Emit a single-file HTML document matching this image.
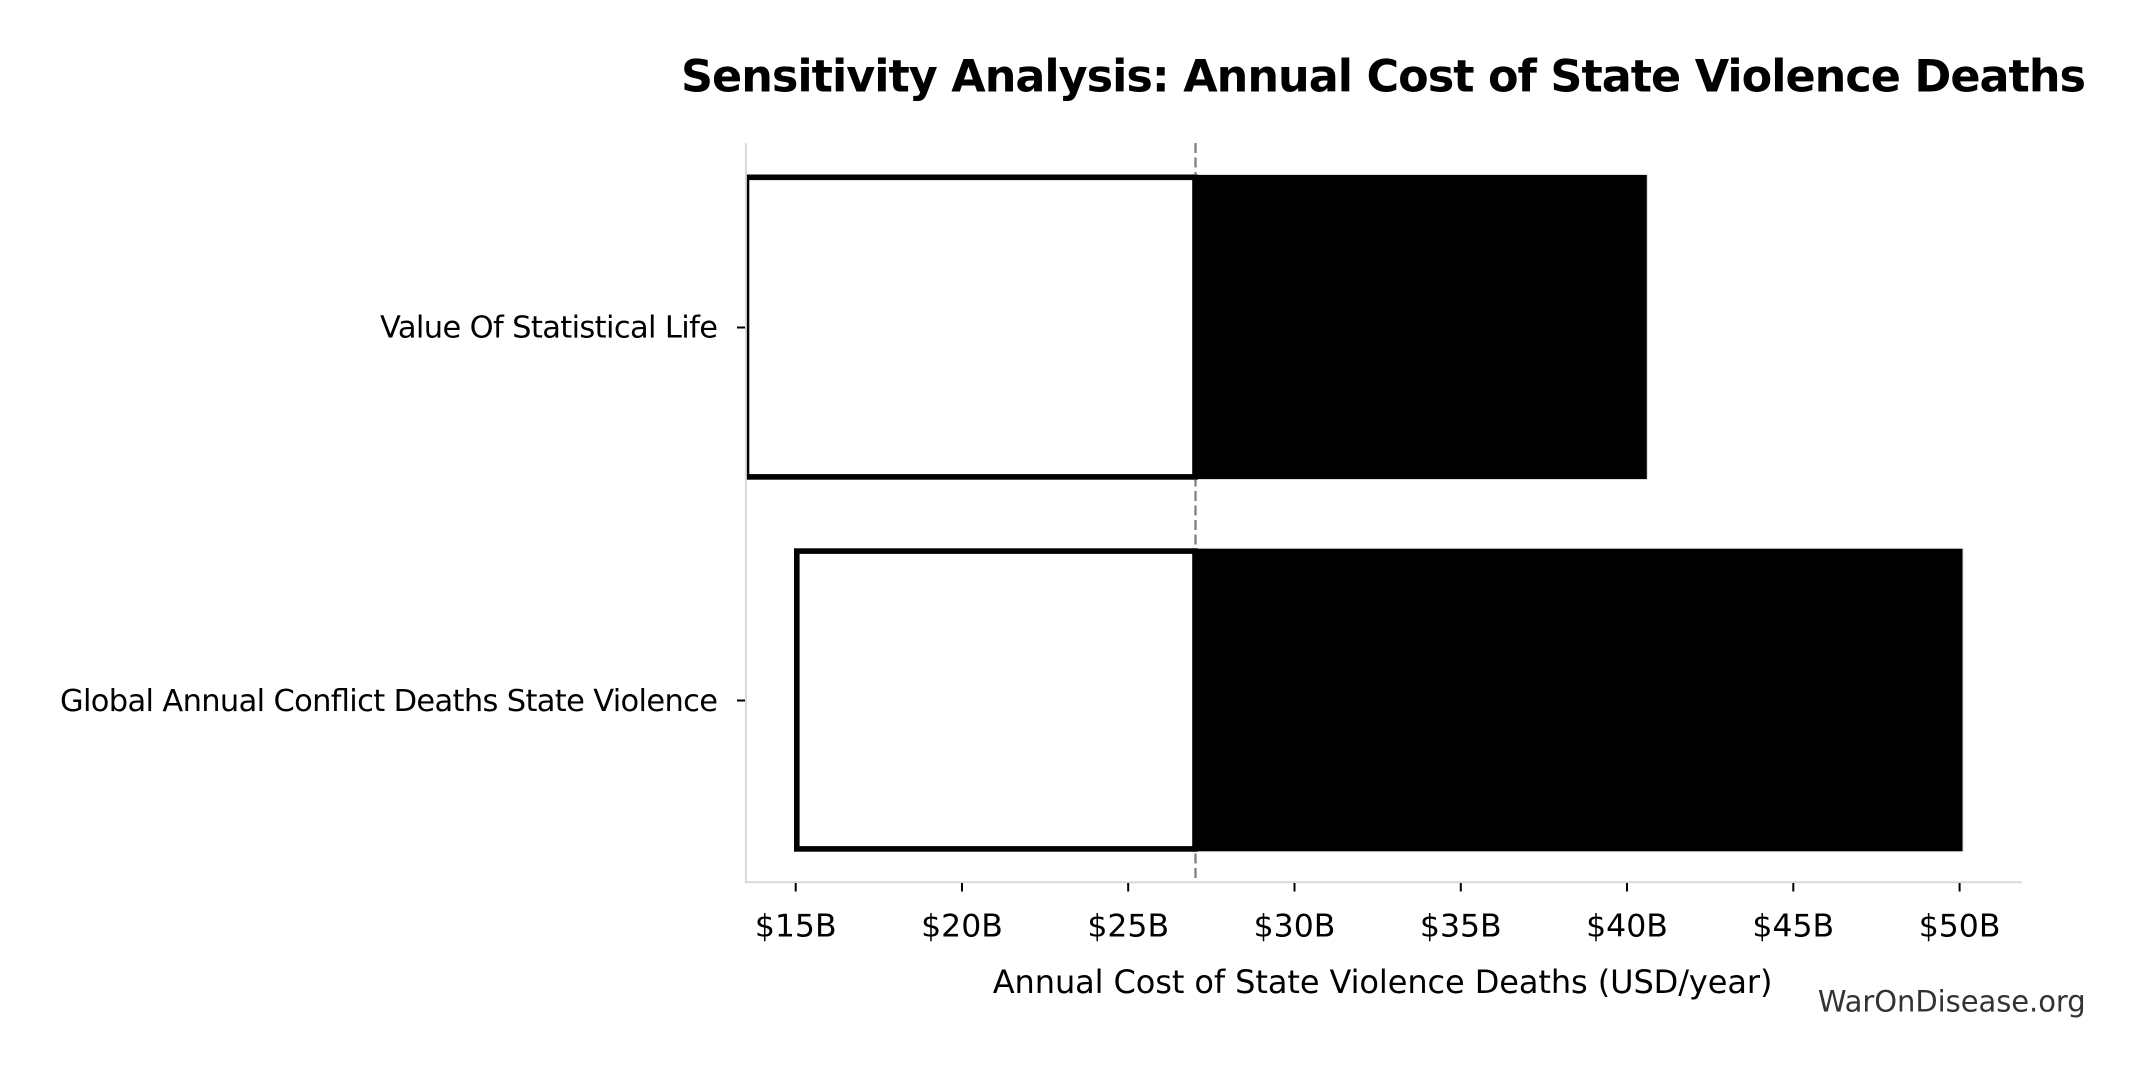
<!DOCTYPE html>
<html>
<head>
<meta charset="utf-8">
<style>
  html, body { margin: 0; padding: 0; background: #ffffff; }
  svg { display: block; }
  text { font-family: "DejaVu Sans", "Liberation Sans", sans-serif; }
</style>
</head>
<body>
<svg width="2145" height="1075" viewBox="0 0 2145 1075" xmlns="http://www.w3.org/2000/svg">
  <rect x="0" y="0" width="2145" height="1075" fill="#ffffff"/>

  <!-- Title -->
  <text x="1383.5" y="91.7" font-size="44.5" font-weight="bold" text-anchor="middle" fill="#000" textLength="1405" lengthAdjust="spacing">Sensitivity Analysis: Annual Cost of State Violence Deaths</text>

  <defs>
    <clipPath id="axclip">
      <rect x="746" y="140" width="1276" height="743"/>
    </clipPath>
  </defs>

  <!-- dashed baseline -->
  <line x1="1195.5" y1="143" x2="1195.5" y2="882" stroke="#808080" stroke-width="2.3" stroke-dasharray="10 4.5"/>

  <g clip-path="url(#axclip)">
    <!-- Bar 1: Value Of Statistical Life -->
    <rect x="1192.5" y="174.5" width="454.8" height="305" fill="#000" stroke="#dddddd" stroke-width="1"/>
    <rect x="746.5" y="177.3" width="448.5" height="299.6" fill="#ffffff" stroke="#000" stroke-width="5.6"/>

    <!-- Bar 2: Global Annual Conflict Deaths State Violence -->
    <rect x="1192.5" y="548.3" width="770.5" height="303.4" fill="#000" stroke="#dddddd" stroke-width="1"/>
    <rect x="796.8" y="551.1" width="398.2" height="297.8" fill="#ffffff" stroke="#000" stroke-width="5.6"/>
  </g>

  <!-- spines -->
  <line x1="745.9" y1="143.3" x2="745.9" y2="883.3" stroke="#d9d9d9" stroke-width="2"/>
  <line x1="744.9" y1="882.3" x2="2021.8" y2="882.3" stroke="#d9d9d9" stroke-width="2"/>

  <!-- y ticks -->
  <line x1="737" y1="327.5" x2="745" y2="327.5" stroke="#000" stroke-width="2"/>
  <line x1="737" y1="700.5" x2="745" y2="700.5" stroke="#000" stroke-width="2"/>

  <!-- y labels -->
  <text x="718" y="337.7" font-size="30.5" text-anchor="end" fill="#000" textLength="338" lengthAdjust="spacing">Value Of Statistical Life</text>
  <text x="718" y="711.2" font-size="30.5" text-anchor="end" fill="#000" textLength="658" lengthAdjust="spacing">Global Annual Conflict Deaths State Violence</text>

  <!-- x ticks -->
  <g stroke="#000" stroke-width="2">
    <line x1="795.7" y1="883" x2="795.7" y2="891.5"/>
    <line x1="962.0" y1="883" x2="962.0" y2="891.5"/>
    <line x1="1128.2" y1="883" x2="1128.2" y2="891.5"/>
    <line x1="1294.5" y1="883" x2="1294.5" y2="891.5"/>
    <line x1="1460.8" y1="883" x2="1460.8" y2="891.5"/>
    <line x1="1627.0" y1="883" x2="1627.0" y2="891.5"/>
    <line x1="1793.3" y1="883" x2="1793.3" y2="891.5"/>
    <line x1="1959.6" y1="883" x2="1959.6" y2="891.5"/>
  </g>

  <!-- x tick labels -->
  <g font-size="31.5" text-anchor="middle" fill="#000">
    <text x="795.7" y="936.5">$15B</text>
    <text x="962.0" y="936.5">$20B</text>
    <text x="1128.2" y="936.5">$25B</text>
    <text x="1294.5" y="936.5">$30B</text>
    <text x="1460.8" y="936.5">$35B</text>
    <text x="1627.0" y="936.5">$40B</text>
    <text x="1793.3" y="936.5">$45B</text>
    <text x="1959.6" y="936.5">$50B</text>
  </g>

  <!-- x axis label -->
  <text x="1382.6" y="993" font-size="32" text-anchor="middle" fill="#000" textLength="779.7" lengthAdjust="spacing">Annual Cost of State Violence Deaths (USD/year)</text>

  <!-- watermark -->
  <text x="2085.7" y="1011.7" font-size="29" text-anchor="end" fill="#333333" textLength="267.8" lengthAdjust="spacing">WarOnDisease.org</text>
</svg>
</body>
</html>
